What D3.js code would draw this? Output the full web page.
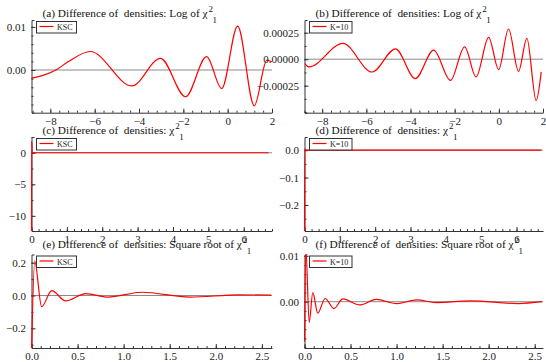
<!DOCTYPE html>
<html>
<head>
<meta charset="utf-8">
<script src="https://cdn.jsdelivr.net/npm/d3@7"></script>
<style>
  body { margin: 0; background: #fff; }
  text { font-family: "Liberation Serif", "Times New Roman", serif; }
</style>
</head>
<body>
<script>
// (a) log of chi2_1, KSC
var logKscX = [-8.85, -8.3, -7.75, -7.2, -6.2, -4.32, -3.03, -1.9, -0.95, -0.27, 0.45, 1.2, 1.77, 2.0];
var logKscY = [-0.0019, -0.0012, 0.0, 0.0019, 0.0043, -0.0037, 0.0027, -0.0062, 0.0031, -0.0043, 0.0102, -0.0083, 0.0023, 0.0019];
// (b) log of chi2_1, K=10
var logK10X = [-8.78, -8.6, -7.06, -5.74, -4.68, -3.78, -2.95, -2.19, -1.55, -1.03, -0.46, -0.01, 0.44, 0.89, 1.27, 1.69, 1.92];
var logK10Y = [-0.000041, -0.000073, 0.000149, -0.000121, 0.000098, -0.000183, 0.000086, -0.0002, 0.000117, -0.000168, 0.000206, -0.000098, 0.000285, -0.000114, 0.000197, -0.00039, -0.00012];
// (c) chi2_1, KSC
var chiKscX = [0, 0.004, 0.02, 0.08, 6.7];
var chiKscY = [-14, 1.8, 0.1, 0, 0];
// (d) chi2_1, K=10
var chiK10X = [0, 0.006, 0.05, 6.7];
var chiK10Y = [-0.32, 0.004, 0, 0];
// (e) square root of chi2_1, KSC
var sqrtKscX = [0, 0.035, 0.11, 0.22, 0.37, 0.59, 0.83, 1.2, 1.72, 2.25, 2.6];
var sqrtKscY = [-0.36, 0.21, -0.068, 0.03, -0.033, 0.012, -0.01, 0.02, -0.01, 0.004, 0.002];
// (f) square root of chi2_1, K=10
var sqrtK10X = [0, 0.014, 0.051, 0.09, 0.144, 0.224, 0.32, 0.415, 0.6, 0.78, 1.0, 1.22, 1.43, 1.8, 2.32, 2.58];
var sqrtK10Y = [-0.0087, 0.012, -0.0045, 0.002, -0.0025, 0.0007, -0.0015, 0.0006, -0.0007, 0.0005, -0.0004, 0.0004, -0.0002, 0.0002, -0.0004, 0.0];

// tick labels
var logXTicks = [-8, -6, -4, -2, 0, 2];
var chiXTicks = [0, 1, 2, 3, 4, 5, 6];
var sqrtXTicks = [0, 0.5, 1, 1.5, 2, 2.5];
var aYTicks = [0, 0.01];
var bYTicks = [-0.00025, 0, 0.00025];
var cYTicks = [-10, -5, 0];
var dYTicks = [-0.2, -0.1, 0];
var eYTicks = [-0.2, 0, 0.2];
var fYTicks = [0, 0.01];

var titles = ["(a) Difference of  densities: Log of ", "(b) Difference of  densities: Log of ",
              "(c) Difference of  densities: ", "(d) Difference of  densities: ",
              "(e) Difference of  densities: Square root of ", "(f) Difference of  densities: Square root of "];
var legendNames = ["KSC", "K=10"];

var width = 546, height = 362;
var cols = [[31.5, 272], [304.5, 543]];
var rows = [[20, 112.7], [137, 231], [254.5, 348]];
var titleBase = [17, 134, 248];

var svg = d3.select("body").append("svg")
  .attr("width", width)
  .attr("height", height);

function minorTicks(domain, step) {
  var out = [];
  var start = Math.ceil(domain[0] / step - 1e-9);
  for (var i = start; i * step <= domain[1] + 1e-9; i++) out.push(+(i * step).toFixed(8));
  return out;
}

function drawPanel(p, idx) {
  var col = cols[idx % 2], row = rows[Math.floor(idx / 2)];
  var x = d3.scaleLinear().domain(p.xDomain).range(col);
  var y = d3.scaleLinear().domain(p.yDomain).range([row[1], row[0]]);
  var g = svg.append("g");

  // zero line
  g.append("line")
    .attr("x1", col[0]).attr("x2", col[1])
    .attr("y1", y(0)).attr("y2", y(0))
    .attr("stroke", "#8a8a8a").attr("stroke-width", 1);

  // minor ticks
  g.append("g").attr("transform", "translate(0," + row[1] + ")")
    .call(d3.axisBottom(x).tickValues(minorTicks(p.xDomain, p.xMinor)).tickSize(-2).tickFormat(""))
    .call(function (s) { s.select(".domain").remove(); });
  g.append("g").attr("transform", "translate(" + col[0] + ",0)")
    .call(d3.axisLeft(y).tickValues(minorTicks(p.yDomain, p.yMinor)).tickSize(-2).tickFormat(""))
    .call(function (s) { s.select(".domain").remove(); });

  // major axes
  var xa = g.append("g").attr("transform", "translate(0," + row[1] + ")")
    .call(d3.axisBottom(x).tickValues(p.xTicks).tickSizeInner(-4).tickSizeOuter(0).tickPadding(4.5).tickFormat(d3.format(p.xFmt)));
  var ya = g.append("g").attr("transform", "translate(" + col[0] + ",0)")
    .call(d3.axisLeft(y).tickValues(p.yTicks).tickSizeInner(-4).tickSizeOuter(-3).tickPadding(5.5).tickFormat(d3.format(p.yFmt)));
  g.selectAll(".tick text").attr("font-family", "Liberation Serif").attr("font-size", 11).attr("fill", "#222");
  g.selectAll(".tick line, .domain").attr("stroke", "#333");

  // clip + curve
  var cid = "clip" + idx;
  svg.append("clipPath").attr("id", cid).append("rect")
    .attr("x", col[0] - 1).attr("y", row[0]).attr("width", col[1] - col[0] + 1).attr("height", row[1] - row[0]);
  var pts = p.xs.map(function (d, i) { return [d, p.ys[i]]; });
  g.append("path")
    .datum(pts)
    .attr("clip-path", "url(#" + cid + ")")
    .attr("fill", "none")
    .attr("stroke", "#ff0000")
    .attr("stroke-width", 1.2)
    .attr("d", d3.line().x(function (d) { return x(d[0]); }).y(function (d) { return y(d[1]); }).curve(d3.curveMonotoneX));

  // legend
  var lx = col[0] + 5, ly = row[0] + 1.5;
  var lw = idx % 2 == 0 ? 40 : 42.5;
  g.append("rect").attr("x", lx).attr("y", ly).attr("width", lw).attr("height", 11.5)
    .attr("fill", "#fff").attr("stroke", "#333").attr("stroke-width", 1);
  g.append("line").attr("x1", lx + 3).attr("x2", lx + 17).attr("y1", ly + 5).attr("y2", ly + 5)
    .attr("stroke", "#ff0000").attr("stroke-width", 1.2);
  g.append("text").attr("x", lx + 20.5).attr("y", ly + 8.5)
    .attr("font-size", 8).attr("fill", "#222").text(legendNames[idx % 2]);

  // title with chi^2_1
  var tb = titleBase[Math.floor(idx / 2)];
  var t = g.append("text").attr("x", col[0] + 11).attr("y", tb)
    .attr("font-size", 11.3).attr("fill", "#111").style("white-space", "pre");
  t.append("tspan").text(titles[idx] + "\u03c7");
  t.append("tspan").attr("dx", 1).attr("dy", -5).attr("font-size", 9).text("2");
  t.append("tspan").attr("dx", -0.5).attr("dy", 11).attr("font-size", 9).text("1");
}

var panels = [
  { xDomain: [-8.85, 2], yDomain: [-0.0099, 0.0116], xTicks: logXTicks, xMinor: 0.4, yTicks: aYTicks, yMinor: 0.002, xFmt: "d", yFmt: ".2f", xs: logKscX, ys: logKscY },
  { xDomain: [-8.8, 2], yDomain: [-0.000505, 0.00037], xTicks: logXTicks, xMinor: 0.4, yTicks: bYTicks, yMinor: 0.000125, xFmt: "d", yFmt: ".5f", xs: logK10X, ys: logK10Y },
  { xDomain: [0, 6.8], yDomain: [-12.4, 2.5], xTicks: chiXTicks, xMinor: 0.2, yTicks: cYTicks, yMinor: 2.5, xFmt: "d", yFmt: "d", xs: chiKscX, ys: chiKscY },
  { xDomain: [0, 6.75], yDomain: [-0.295, 0.048], xTicks: chiXTicks, xMinor: 0.2, yTicks: dYTicks, yMinor: 0.05, xFmt: "d", yFmt: ".1f", xs: chiK10X, ys: chiK10Y },
  { xDomain: [0, 2.61], yDomain: [-0.32, 0.25], xTicks: sqrtXTicks, xMinor: 0.1, yTicks: eYTicks, yMinor: 0.1, xFmt: ".1f", yFmt: ".1f", xs: sqrtKscX, ys: sqrtKscY },
  { xDomain: [0, 2.59], yDomain: [-0.0101, 0.0103], xTicks: sqrtXTicks, xMinor: 0.1, yTicks: fYTicks, yMinor: 0.002, xFmt: ".1f", yFmt: ".2f", xs: sqrtK10X, ys: sqrtK10Y }
];

panels.forEach(drawPanel);
</script>
</body>
</html>
